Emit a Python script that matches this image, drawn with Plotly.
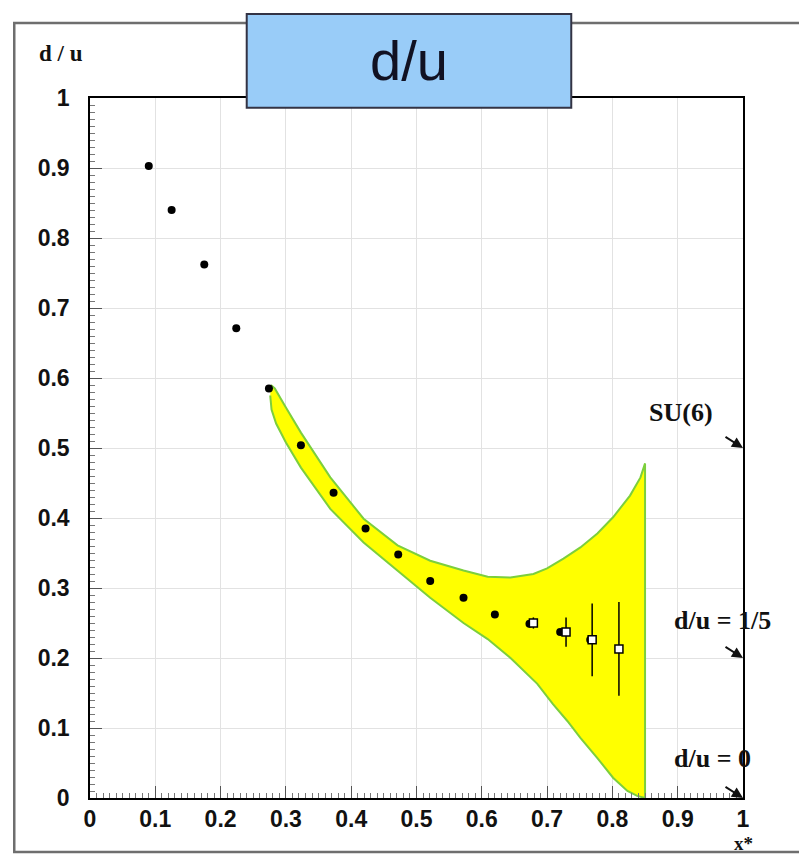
import plotly.graph_objects as go

# ---- data ----
pts_x = [0.090, 0.125, 0.175, 0.224, 0.274, 0.323, 0.373, 0.422, 0.472, 0.521, 0.572, 0.620, 0.673, 0.720, 0.766]
pts_y = [0.903, 0.840, 0.762, 0.671, 0.585, 0.504, 0.436, 0.385, 0.348, 0.310, 0.286, 0.262, 0.249, 0.237, 0.226]

sq_x = [0.679, 0.729, 0.769, 0.810]
sq_y = [0.250, 0.237, 0.226, 0.213]
sq_err = [0.008, 0.021, 0.052, 0.067]

band_upper_x = [0.277, 0.283, 0.300, 0.323, 0.368, 0.419, 0.471, 0.521, 0.572, 0.609, 0.644, 0.679,
                0.700, 0.725, 0.751, 0.777, 0.801, 0.827, 0.843, 0.850]
band_upper_y = [0.590, 0.585, 0.558, 0.522, 0.458, 0.399, 0.361, 0.339, 0.325, 0.316, 0.315, 0.320,
                0.328, 0.342, 0.358, 0.378, 0.401, 0.432, 0.458, 0.478]
band_lower_x = [0.850, 0.838, 0.823, 0.801, 0.777, 0.751, 0.731, 0.709, 0.685, 0.644, 0.609, 0.572,
                0.521, 0.471, 0.419, 0.368, 0.323, 0.300, 0.285, 0.278, 0.276]
band_lower_y = [0.000, 0.003, 0.010, 0.029, 0.057, 0.086, 0.110, 0.134, 0.163, 0.200, 0.227, 0.250,
                0.286, 0.325, 0.365, 0.413, 0.472, 0.508, 0.535, 0.555, 0.575]

tick_vals = [0, 0.1, 0.2, 0.3, 0.4, 0.5, 0.6, 0.7, 0.8, 0.9, 1]
tick_text = ["0", "0.1", "0.2", "0.3", "0.4", "0.5", "0.6", "0.7", "0.8", "0.9", "1"]

limit_labels = ["SU(6)", "d/u = 1/5", "d/u = 0"]
limit_values = [0.5, 0.2, 0.0]

# ---- figure ----
fig = go.Figure()

fig.add_trace(go.Scatter(
    x=band_upper_x + band_lower_x, y=band_upper_y + band_lower_y,
    fill="toself", fillcolor="#ffff00", mode="lines",
    line=dict(color="#7ccf3c", width=2), hoverinfo="skip", showlegend=False))

fig.add_trace(go.Scatter(
    x=pts_x, y=pts_y, mode="markers",
    marker=dict(color="black", size=8, symbol="circle"), showlegend=False))

fig.add_trace(go.Scatter(
    x=sq_x, y=sq_y, mode="markers",
    marker=dict(color="white", size=8, symbol="square", line=dict(color="black", width=1.5)),
    error_y=dict(type="data", array=sq_err, visible=True, color="black", thickness=1.5, width=0),
    showlegend=False))

tickfont = dict(family="Liberation Sans, Arial, sans-serif", size=23, color="#111111", weight="bold")

fig.update_xaxes(
    range=[0, 1], tickvals=tick_vals, ticktext=tick_text, tickfont=tickfont,
    showgrid=True, gridcolor="#e2e2e2", gridwidth=1,
    showline=True, linecolor="black", linewidth=1.5, mirror=True,
    ticks="inside", ticklen=12, tickcolor="#555555", ticklabelstandoff=0,
    minor=dict(dtick=0.01, ticks="inside", ticklen=5, tickcolor="#777777", showgrid=False),
    zeroline=False, fixedrange=True)
fig.update_yaxes(
    range=[0, 1], tickvals=tick_vals, ticktext=tick_text, tickfont=tickfont,
    showgrid=True, gridcolor="#e2e2e2", gridwidth=1,
    showline=True, linecolor="black", linewidth=1.5, mirror=True,
    ticks="inside", ticklen=12, tickcolor="#555555", ticklabelstandoff=14,
    minor=dict(dtick=0.01, ticks="inside", ticklen=5, tickcolor="#777777", showgrid=False),
    zeroline=False, fixedrange=True)

serif = dict(family="Liberation Serif, Times New Roman, serif", size=26, color="#111111", weight="bold")

shapes = [
    # outer frame
    dict(type="rect", xref="paper", yref="paper", x0=-0.116, x1=1.12, y0=-0.077, y1=1.107,
         line=dict(color="#6e6e6e", width=2.5), fillcolor="rgba(0,0,0,0)", layer="below"),
    # title box
    dict(type="rect", xref="paper", yref="paper", x0=0.240, x1=0.737, y0=0.986, y1=1.120,
         line=dict(color="#333344", width=2), fillcolor="#99ccf8", layer="above"),
]

annotations = [
    dict(text="d/u", xref="paper", yref="paper", x=0.4885, y=1.053, showarrow=False,
         font=dict(family="Liberation Sans, Arial, sans-serif", size=56, color="#111122"),
         xanchor="center", yanchor="middle"),
    dict(text="d / u", xref="paper", yref="paper", x=-0.045, y=1.063, showarrow=False,
         font=dict(family="Liberation Serif, Times New Roman, serif", size=23, color="#111111", weight="bold"),
         xanchor="center", yanchor="middle"),
    dict(text="x*", xref="paper", yref="paper", x=1.0, y=-0.065, showarrow=False,
         font=dict(family="Liberation Serif, Times New Roman, serif", size=19, color="#111111", weight="bold"),
         xanchor="center", yanchor="middle"),
]

text_pos = [(0.905, 0.551), (0.969, 0.253), (0.954, 0.056)]
for lab, val, (tx, ty) in zip(limit_labels, limit_values, text_pos):
    annotations.append(dict(text="", x=1.0, y=val, xref="x", yref="y", showarrow=True,
                            ax=-19, ay=-12, arrowhead=2, arrowsize=1.1, arrowwidth=2,
                            arrowcolor="#111111"))
    annotations.append(dict(text=lab, x=tx, y=ty, xref="x", yref="y", showarrow=False,
                            font=serif, xanchor="center", yanchor="middle"))

fig.update_layout(
    width=800, height=857,
    margin=dict(l=82, r=65, t=90, b=67),
    paper_bgcolor="white", plot_bgcolor="white",
    shapes=shapes, annotations=annotations, showlegend=False)

fig.write_html("out.html")
